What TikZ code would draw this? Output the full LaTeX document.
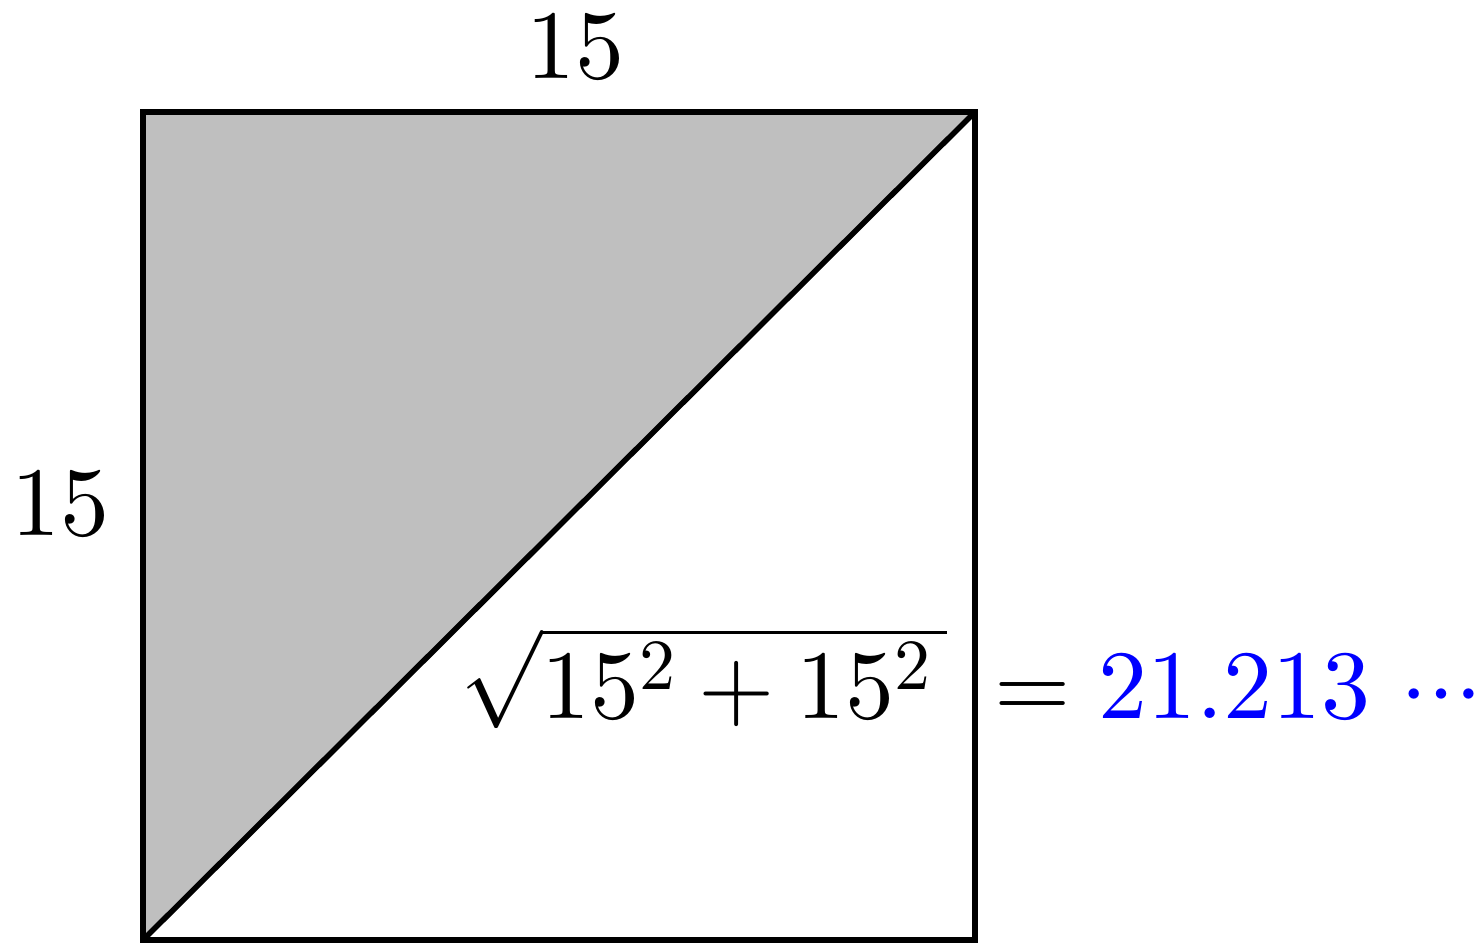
\documentclass[tikz,border=0pt]{standalone}
\usepackage{xcolor}
\usepackage{fontspec}
\usepackage{unicode-math}
\setmathfont{Latin Modern Math}
\newcommand{\bigsup}{\mbox{\fontsize{72}{72}\selectfont$2$}}
\begin{document}
\begin{tikzpicture}[x=1pt,y=-1pt,
  edge/.style={draw=black,line width=5.5pt,line join=miter},
  lbl/.style={inner sep=0pt,font=\fontsize{98}{100}\selectfont}]
\useasboundingbox (0,0) rectangle (1483,943);
\coordinate (tl) at (143,112);
\coordinate (tr) at (975,112);
\coordinate (br) at (975,940);
\coordinate (bl) at (143,940);
\fill[gray!50] (tl) -- (tr) -- (bl) -- cycle;
\draw[edge] (tl) -- (tr) -- (br) -- (bl) -- cycle;
\draw[edge] (bl) -- (tr);
\node[lbl,anchor=base] (top) at (575,78) {$15$};
\node[lbl,anchor=base] (left) at (60,535) {$15$};
\node[lbl,anchor=base west] (sq) at (460,718) {$\sqrt{15^{\bigsup}+15^{\bigsup}\,}$};
\node[lbl,anchor=base] (eq) at (1033,718) {$=$};
\node[lbl,anchor=base west,text=blue] (val) at (1098,718) {$21.213\,\cdots$};
\end{tikzpicture}
\end{document}
